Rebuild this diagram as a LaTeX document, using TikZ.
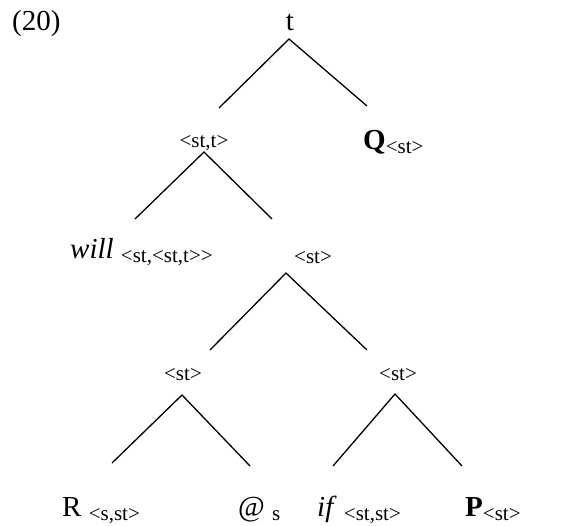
\documentclass[tikz,border=0pt]{standalone}
\usepackage{fontspec}
\setmainfont{Liberation Serif}
\newcommand\typ[1]{{\fontsize{21}{25}\selectfont#1}}
\newcommand\lo[1]{\raisebox{-4pt}{\typ{#1}}}

\begin{document}
\begin{tikzpicture}[x=1pt,y=-1pt,
    word/.style={inner sep=0pt,anchor=base west,font=\fontsize{29}{35}\selectfont},
    type/.style={inner sep=0pt,anchor=base,font=\fontsize{21}{25}\selectfont},
    branch/.style={line width=1.3pt}]
    \useasboundingbox (0,0) rectangle (570,525);
    \node[word] (ex) at (12,30) {(20)};
    \node[word,anchor=base] (t) at (290,30) {t};
    \node[type] (stt) at (204,147) {<st,t>};
    \node[word] (Q) at (363,149) {\textbf{Q}\lo{<st>}};
    \node[word] (will) at (70,258) {\textit{will} \lo{<st,<st,t>{}>}};
    \node[type] (st) at (313,263) {<st>};
    \node[type] (stl) at (183,380) {<st>};
    \node[type] (str) at (398,380) {<st>};
    \node[word] (R) at (62,516) {R \lo{<s,st>}};
    \node[word] (at) at (238,516) {@ \lo{s}};
    \node[word] (if) at (317,516) {\textit{if} \lo{<st,st>}};
    \node[word] (P) at (465,516) {\textbf{P}\lo{<st>}};
    \coordinate (t-a) at (289,39);
    \coordinate (stt-a) at (204,152);
    \coordinate (st-a) at (286,273);
    \coordinate (stl-a) at (182,395);
    \coordinate (str-a) at (395,394);
    \coordinate (t-l) at (219,108);
    \coordinate (t-r) at (367,106);
    \coordinate (stt-l) at (135,219);
    \coordinate (stt-r) at (272,219);
    \coordinate (st-l) at (210,350);
    \coordinate (st-r) at (367,350);
    \coordinate (stl-l) at (112,463);
    \coordinate (stl-r) at (250,466);
    \coordinate (str-l) at (333,466);
    \coordinate (str-r) at (462,466);
    \foreach \n in {t,stt,st,stl,str}
        \draw[branch] (\n-l) -- (\n-a) -- (\n-r);
\end{tikzpicture}
\end{document}
